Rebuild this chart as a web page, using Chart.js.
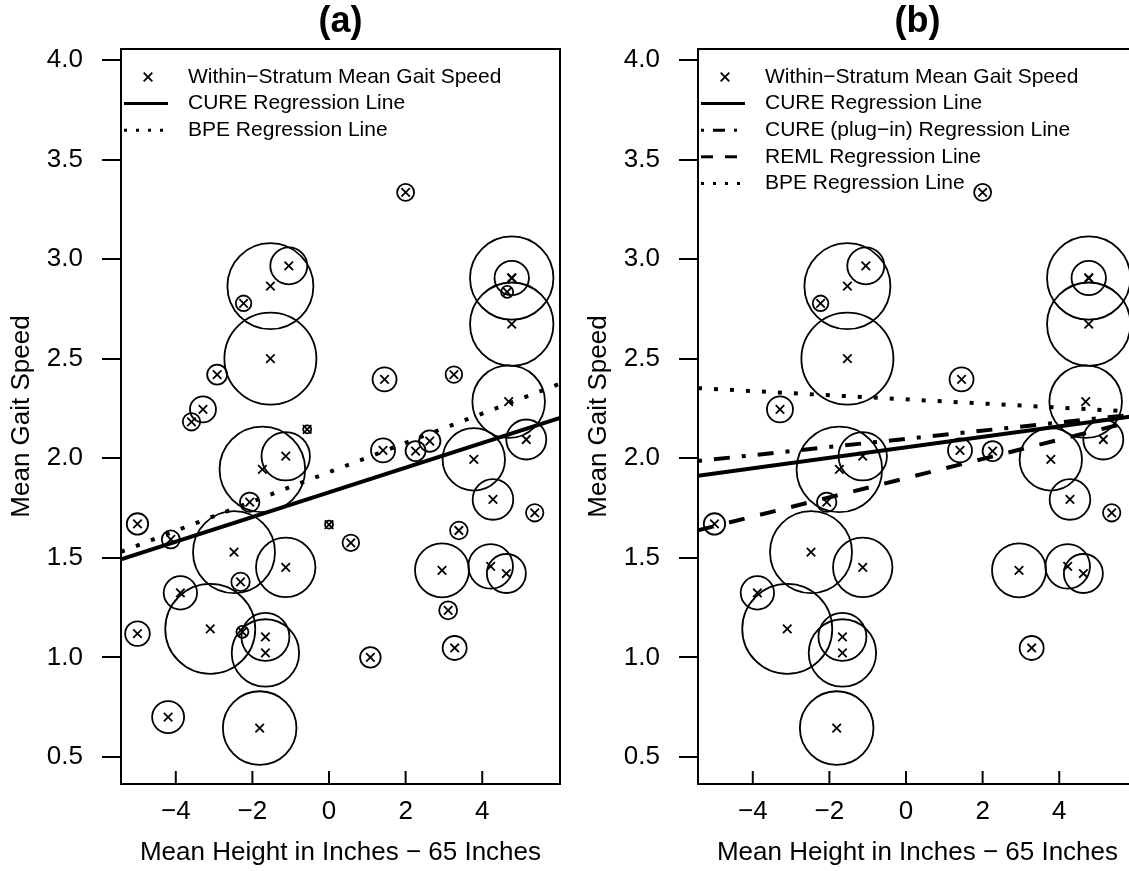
<!DOCTYPE html>
<html>
<head>
<meta charset="utf-8">
<script src="https://cdn.jsdelivr.net/npm/chart.js@4.4.0/dist/chart.umd.min.js"></script>
<style>
html, body { margin: 0; padding: 0; background: #fff; overflow: hidden; }
#wrap { position: relative; width: 1129px; height: 871px; overflow: hidden; }
canvas { position: absolute; top: 0; }
#panelA { left: 0; }
#panelB { left: 577px; }
</style>
</head>
<body>
<div id="wrap">
  <canvas id="panelA" width="576" height="871"></canvas>
  <canvas id="panelB" width="576" height="871"></canvas>
</div>
<script>
// axes
const xTicks = [-4, -2, 0, 2, 4];
const yTicks = [0.5, 1.0, 1.5, 2.0, 2.5, 3.0, 3.5, 4.0];
const xRange = [-5.43, 6.03];
const yRange = [0.364, 4.055];

// within-stratum means (height - 65, gait speed), circle weight, shown in panel (b)?
const stratumHeight = [-1.53, -1.05, -2.23, 2.0, 4.77, 4.77, 4.65, 4.77, -1.53, -2.92,
  -3.29, -3.59, -0.57, -1.74, -1.13, -2.07, -5.0, -4.13, -2.48, -1.13,
  -2.31, -3.88, -5.0, -3.10, -2.26, -1.66, -1.66, -4.2, -1.81, 1.08,
  3.28, 1.45, 3.26, 4.69, 1.41, 2.63, 2.26, 3.78, 5.15, 4.28,
  5.37, 0.0, 0.57, 3.39, 2.95, 4.22, 4.63, 3.11];
const stratumSpeed = [2.864, 2.966, 2.778, 3.335, 2.905, 2.905, 2.835, 2.673, 2.50, 2.42,
  2.245, 2.183, 2.145, 1.944, 2.01, 1.779, 1.67, 1.592, 1.528, 1.452,
  1.379, 1.324, 1.119, 1.143, 1.128, 1.103, 1.022, 0.70, 0.645, 1.0,
  1.047, 2.396, 2.42, 2.284, 2.039, 2.086, 2.036, 1.994, 2.094, 1.793,
  1.726, 1.667, 1.575, 1.637, 1.437, 1.457, 1.421, 1.236];
const stratumWeight = [4.3, 1.85, 0.78, 0.85, 4.17, 1.72, 0.6, 4.17, 4.6, 1.0,
  1.3, 0.87, 0.4, 4.28, 2.42, 0.97, 1.07, 0.9, 4.1, 2.97,
  0.92, 1.67, 1.23, 4.5, 0.6, 2.4, 3.37, 1.6, 3.68, 1.03,
  1.2, 1.2, 0.83, 3.63, 1.2, 1.07, 1.0, 3.12, 2.0, 2.03,
  0.87, 0.4, 0.83, 0.88, 2.7, 2.23, 1.95, 0.9];
const inPanelB = [1, 1, 1, 1, 1, 1, 0, 1, 1, 0,
  1, 0, 0, 1, 1, 1, 1, 0, 1, 1,
  0, 1, 0, 1, 0, 1, 1, 0, 1, 0,
  1, 1, 0, 1, 1, 0, 1, 1, 1, 1,
  1, 0, 0, 0, 1, 1, 1, 0];

// regression lines, value at left and right end of the x range
const cureA = [1.492, 2.203];
const bpeA = [1.530, 2.374];
const cureB = [1.912, 2.213];
const curePlugB = [1.986, 2.221];
const remlB = [1.638, 2.191];
const bpeB = [2.352, 2.233];

const legendA = ['Within\u2212Stratum Mean Gait Speed', 'CURE Regression Line', 'BPE Regression Line'];
const legendB = ['Within\u2212Stratum Mean Gait Speed', 'CURE Regression Line',
  'CURE (plug\u2212in) Regression Line', 'REML Regression Line', 'BPE Regression Line'];

const FONT = "'Liberation Sans', Arial, Helvetica, sans-serif";
const CIRCLE_SCALE = 10;
const DOTTED = [4, 12], DASHED = [16, 16], DOTDASH = [4, 12, 16, 12];

function fmtX(v) {
    return v < 0 ? '\u2212' + Math.abs(v) : String(v);
}

function lineSet(ys, dash) {
    return {
        type: 'line',
        data: [{ x: xRange[0], y: ys[0] }, { x: xRange[1], y: ys[1] }],
        borderColor: '#000',
        borderWidth: 4,
        borderDash: dash,
        borderCapStyle: 'butt',
        pointRadius: 0,
        fill: false,
        tension: 0
    };
}

// cadre, graduations de l'axe x (vers l'intérieur) et légende
const framePlugin = {
    id: 'frameLegend',
    afterDraw(chart) {
        const ctx = chart.ctx;
        const a = chart.chartArea;
        const xs = chart.scales.x;
        ctx.save();
        ctx.strokeStyle = '#000';
        ctx.lineWidth = 2;
        ctx.setLineDash([]);
        ctx.strokeRect(a.left, a.top, a.right - a.left, a.bottom - a.top);
        xTicks.forEach(v => {
            const px = xs.getPixelForValue(v);
            ctx.beginPath();
            ctx.moveTo(px, a.bottom);
            ctx.lineTo(px, a.bottom - 13);
            ctx.stroke();
        });

        const items = chart.options.plugins.frameLegend.items;
        ctx.font = '21px ' + FONT;
        ctx.fillStyle = '#000';
        ctx.textBaseline = 'middle';
        ctx.textAlign = 'left';
        items.forEach((it, i) => {
            const y = a.top + 28 + i * 26.6;
            if (it.dash === null) {
                const cx = a.left + 27, d = 4.3;
                ctx.lineWidth = 1.8;
                ctx.setLineDash([]);
                ctx.beginPath();
                ctx.moveTo(cx - d, y - d); ctx.lineTo(cx + d, y + d);
                ctx.moveTo(cx - d, y + d); ctx.lineTo(cx + d, y - d);
                ctx.stroke();
            } else {
                ctx.lineWidth = 3;
                ctx.setLineDash(it.dash.map(v => v * 0.75));
                ctx.beginPath();
                ctx.moveTo(a.left + 3, y);
                ctx.lineTo(a.left + 47, y);
                ctx.stroke();
            }
            ctx.fillText(it.label, a.left + 67, y);
        });
        ctx.restore();
    }
};

function makePanel(id, title, keep, lines, legendItems) {
    const circles = [], crosses = [];
    stratumHeight.forEach((h, i) => {
        if (!keep(i)) return;
        circles.push({ x: h, y: stratumSpeed[i], r: stratumWeight[i] * CIRCLE_SCALE });
        crosses.push({ x: h, y: stratumSpeed[i] });
    });
    return new Chart(document.getElementById(id), {
        data: {
            datasets: [
                {
                    type: 'bubble',
                    data: circles,
                    backgroundColor: 'rgba(0,0,0,0)',
                    borderColor: '#000',
                    borderWidth: 1.8,
                    hoverRadius: 0
                },
                {
                    type: 'scatter',
                    data: crosses,
                    pointStyle: 'crossRot',
                    pointRadius: 6,
                    borderColor: '#000',
                    borderWidth: 1.8
                }
            ].concat(lines)
        },
        options: {
            responsive: false,
            animation: false,
            events: [],
            layout: { autoPadding: false, padding: { left: 0, right: 16, top: 0, bottom: 0 } },
            plugins: {
                legend: { display: false },
                tooltip: { enabled: false },
                title: {
                    display: true,
                    text: title,
                    fullSize: false,
                    color: '#000',
                    font: { family: FONT, size: 36, weight: 'bold', lineHeight: 1.2 },
                    padding: { top: 0, bottom: 5.8 }
                },
                frameLegend: { items: legendItems }
            },
            scales: {
                x: {
                    type: 'linear',
                    min: xRange[0],
                    max: xRange[1],
                    afterBuildTicks: s => { s.ticks = xTicks.map(v => ({ value: v })); },
                    afterFit: s => { s.height = 87; s.paddingLeft = 0; s.paddingRight = 0; },
                    ticks: {
                        callback: fmtX,
                        color: '#000',
                        font: { family: FONT, size: 26 },
                        padding: 12,
                        maxRotation: 0,
                        autoSkip: false
                    },
                    grid: { display: true, drawOnChartArea: false, drawTicks: false },
                    border: { display: false },
                    title: {
                        display: true,
                        text: 'Mean Height in Inches \u2212 65 Inches',
                        color: '#000',
                        font: { family: FONT, size: 26, lineHeight: 1.2 },
                        padding: { top: 0, bottom: 3 }
                    }
                },
                y: {
                    type: 'linear',
                    min: yRange[0],
                    max: yRange[1],
                    afterBuildTicks: s => { s.ticks = yTicks.map(v => ({ value: v })); },
                    afterFit: s => { s.width = 121; s.paddingTop = 0; s.paddingBottom = 0; },
                    ticks: {
                        callback: v => v.toFixed(1),
                        color: '#000',
                        font: { family: FONT, size: 26 },
                        padding: 19,
                        autoSkip: false
                    },
                    grid: { drawOnChartArea: false, drawTicks: true, tickLength: 19, color: '#000', lineWidth: 2 },
                    border: { display: false },
                    title: {
                        display: true,
                        text: 'Mean Gait Speed',
                        color: '#000',
                        font: { family: FONT, size: 26, lineHeight: 1.2 },
                        padding: { top: 6, bottom: 0 }
                    }
                }
            }
        },
        plugins: [framePlugin]
    });
}

makePanel('panelA', '(a)', i => true,
    [lineSet(cureA, []), lineSet(bpeA, DOTTED)],
    [{ label: legendA[0], dash: null }, { label: legendA[1], dash: [] }, { label: legendA[2], dash: DOTTED }]);

makePanel('panelB', '(b)', i => inPanelB[i] === 1,
    [lineSet(cureB, []), lineSet(curePlugB, DOTDASH), lineSet(remlB, DASHED), lineSet(bpeB, DOTTED)],
    [{ label: legendB[0], dash: null }, { label: legendB[1], dash: [] },
     { label: legendB[2], dash: DOTDASH }, { label: legendB[3], dash: DASHED }, { label: legendB[4], dash: DOTTED }]);
</script>
</body>
</html>
